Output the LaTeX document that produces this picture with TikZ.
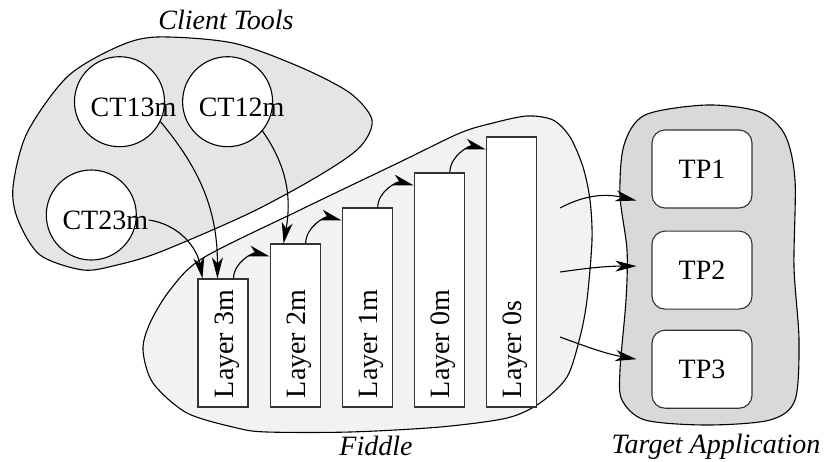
\documentclass[tikz,border=0pt]{standalone}
\usepackage{fontspec}
\setmainfont{Liberation Serif}
\usepackage{tikz}
\usetikzlibrary{positioning, arrows.meta}

\begin{document}
\begin{tikzpicture}[x=1pt, y=-1pt, font=\fontsize{28}{34}\selectfont, line width=1.1pt]

    \tikzset{
        blob/.style = {draw=black, line width=1.1pt},
        client/.style = {circle, minimum size=90pt, inner sep=0pt, draw=black, fill=white},
        cttext/.style = {inner sep=0pt},
        layer/.style = {rectangle, minimum width=50pt, inner sep=0pt, draw=black!80, fill=white},
        layertext/.style = {rotate=90, anchor=base west, inner sep=0pt},
        target/.style = {rectangle, rounded corners=13pt, minimum width=100pt, minimum height=78pt, text centered, draw=black!80, fill=white},
        title/.style = {anchor=base, font=\fontsize{28}{34}\selectfont\itshape},
        arrow/.style = {line width=1.1pt, -{Stealth[length=21pt, width=11pt, inset=6pt]}}
    }

    \useasboundingbox (0,0) rectangle (824,461);

    \draw [blob, fill=black!10] plot [smooth cycle] coordinates {(83,270) (40,255) (18,220) (13,187) (27,133) (67,77) (117,47) (157,37) (233,43) (300,67) (350,93) (372,120) (360,147) (320,175) (250,213) (160,252) (117,265)};
    \draw [blob, fill=black!5] plot [smooth cycle] coordinates {(143,350) (150,323) (170,290) (203,258) (300,210) (400,162) (460,133) (493,123) (527,116) (553,120) (570,137) (583,167) (590,200) (592,240) (587,300) (580,337) (567,377) (540,403) (507,418) (440,427) (350,432) (267,432) (237,428) (187,413) (153,383)};
    \draw [blob, fill=black!15] plot [smooth cycle] coordinates {(707,105) (760,112) (785,135) (795,180) (794,267) (799,340) (795,400) (770,420) (707,425) (645,420) (622,400) (620,370) (626,300) (627,250) (620,195) (624,145) (645,115)};

    \node (clienttitle) [title] at (226,29) {Client Tools};
    \node (fiddletitle) [title] at (376,455) {Fiddle};
    \node (targettitle) [title] at (716,453) {Target Application};

    \node (ct13) [client] at (119.5,101.7) {};
    \node (ct12) [client, right=17pt of ct13] {};
    \node (ct23) [client] at (91.3,215) {};
    \node (ct13t) [cttext] at ([shift={(14,6)}]ct13.center) {CT13m};
    \node (ct12t) [cttext] at ([shift={(14,6)}]ct12.center) {CT12m};
    \node (ct23t) [cttext] at ([shift={(14,5)}]ct23.center) {CT23m};

    \node (l3m) [layer, minimum height=128pt] at (223,343) {};
    \node (l2m) [layer, minimum height=163pt, right=21pt of l3m.south east, anchor=south west] {};
    \node (l1m) [layer, minimum height=199pt, right=21pt of l2m.south east, anchor=south west] {};
    \node (l0m) [layer, minimum height=234pt, right=21pt of l1m.south east, anchor=south west] {};
    \node (l0s) [layer, minimum height=270pt, right=21pt of l0m.south east, anchor=south west] {};
    \node (l3mt) [layertext] at ([xshift=10.5pt, yshift=9pt]l3m.south) {Layer 3m};
    \node (l2mt) [layertext] at ([xshift=10.5pt, yshift=9pt]l2m.south) {Layer 2m};
    \node (l1mt) [layertext] at ([xshift=10.5pt, yshift=9pt]l1m.south) {Layer 1m};
    \node (l0mt) [layertext] at ([xshift=10.5pt, yshift=9pt]l0m.south) {Layer 0m};
    \node (l0st) [layertext] at ([xshift=10.5pt, yshift=9pt]l0s.south) {Layer 0s};

    \node (tp1) [target] at (702,169) {TP1};
    \node (tp2) [target, below=22pt of tp1] {TP2};
    \node (tp3) [target, below=20pt of tp2] {TP3};

    \coordinate (f1) at (560,208);
    \coordinate (f2) at (560,272);
    \coordinate (f3) at (560,337);

    \draw [arrow] (ct13.-26) to [out=-50, in=90] ([xshift=20pt]l3m.north west);
    \draw [arrow] (ct23t.east) to [out=-8, in=100] ([xshift=5pt]l3m.north west);
    \draw [arrow] (ct12.-40) to [out=-55, in=80] ([xshift=14pt]l2m.north west);

    \draw [arrow] ([xshift=-15pt]l3m.north east) to [out=90, in=165] ([yshift=-13pt]l2m.north west);
    \draw [arrow] ([xshift=-15pt]l2m.north east) to [out=90, in=165] ([yshift=-13pt]l1m.north west);
    \draw [arrow] ([xshift=-15pt]l1m.north east) to [out=90, in=165] ([yshift=-13pt]l0m.north west);
    \draw [arrow] ([xshift=-15pt]l0m.north east) to [out=90, in=165] ([yshift=-13pt]l0s.north west);

    \draw [arrow] (f1) to [out=28, in=167] ([shift={(-15,-8)}]tp1.south west);
    \draw [arrow] (f2) to [out=8, in=180] ([shift={(-15,-4)}]tp2.west);
    \draw [arrow] (f3) to [out=-20, in=170] ([shift={(-15,-10)}]tp3.west);
\end{tikzpicture}
\end{document}
